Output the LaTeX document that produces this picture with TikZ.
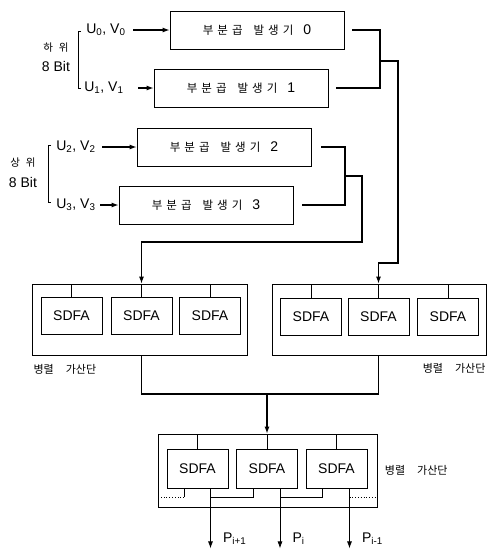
\documentclass[tikz,border=0pt]{standalone}
\usepackage{fontspec}
\setmainfont{Liberation Sans}
\newfontfamily\kr{Noto Sans CJK KR}
\usetikzlibrary{arrows.meta,positioning}
\newcommand\partgen[1]{{\kr\fontsize{11.5}{13}\selectfont 부\hspace{4pt}분\hspace{4pt}곱\hspace{11pt}발\hspace{4pt}생\hspace{4pt}기}\hspace{10pt}#1}
\newcommand\adderlbl{{\kr\fontsize{11}{13}\selectfont 병렬\hspace{12pt}가산단}}
\newcommand\halfword[1]{{\kr\fontsize{10.5}{12}\selectfont #1}}

\begin{document}
\begin{tikzpicture}[x=1pt, y=-1pt, >={Latex[length=7pt,width=5pt]},
  font=\fontsize{14}{16}\selectfont,
  genbox/.style={draw, line width=0.8pt, minimum width=174pt, minimum height=38pt},
  fabox/.style={draw, line width=0.8pt, minimum width=61pt, minimum height=37pt, inner sep=0pt},
  addbox/.style={draw, line width=0.8pt, inner sep=0pt},
  wire/.style={line width=1.1pt},
  thin wire/.style={line width=0.8pt}]
\useasboundingbox (0,0) rectangle (488,552);

% partial product generators
\node[genbox] (gen0) at (257,30) {\partgen{0}};
\node[genbox] (gen1) at (241,88) {\partgen{1}};
\node[genbox] (gen2) at (224,147) {\partgen{2}};
\node[genbox] (gen3) at (206,205) {\partgen{3}};

% inputs
\node[anchor=east] (u0) at (129,30) {U\textsubscript{0}, V\textsubscript{0}};
\node[anchor=east] (u1) at (127,88) {U\textsubscript{1}, V\textsubscript{1}};
\node[anchor=east] (u2) at (99,147) {U\textsubscript{2}, V\textsubscript{2}};
\node[anchor=east] (u3) at (99,205) {U\textsubscript{3}, V\textsubscript{3}};
\draw[wire, ->, shorten <=4pt] (u0) -- (gen0);
\draw[wire, ->, shorten <=11pt] (u1) -- (gen1);
\draw[wire, ->, shorten <=3pt] (u2) -- (gen2);
\draw[wire, ->, shorten <=1pt] (u3) -- (gen3);

% bit groups
\draw[thin wire] (81,31) -- (78,31) -- (78,88) -- (81,88);
\draw[thin wire] (51,145) -- (48,145) -- (48,202) -- (51,202);
\node (lo1) at (56,48) {\halfword{하\hspace{6pt}위}};
\node (lo2) at (56,66) {8 Bit};
\node (hi1) at (23,163) {\halfword{상\hspace{6pt}위}};
\node (hi2) at (23,182) {8 Bit};

% adders
\node[addbox, minimum width=215pt, minimum height=71pt] (addL) at (139.5,319.5) {};
\node[addbox, minimum width=214pt, minimum height=71pt] (addR) at (379,319.5) {};
\node[addbox, minimum width=219pt, minimum height=73pt] (addB) at (267.5,470.5) {};
\foreach \i/\x in {1/71.5, 2/141.5, 3/210}
  \node[fabox] (sL\i) at (\x,315.5) {SDFA};
\foreach \i/\x in {1/311, 2/378.5, 3/448}
  \node[fabox] (sR\i) at (\x,317) {SDFA};
\foreach \i/\x in {1/197.5, 2/267, 3/336.5}
  \node[fabox, minimum height=39pt] (sB\i) at (\x,468.5) {SDFA};
\foreach \s/\a in {sL/addL, sR/addR, sB/addB}
  \foreach \i in {1,2,3}
    \draw[thin wire] (\s\i.north) -- (\s\i.north |- \a.north);

\node[anchor=west] (lblL) at (30,369) {\adderlbl};
\node[anchor=east] (lblR) at (489,368) {\adderlbl};
\node[right=4pt of addB] (lblB) {\adderlbl};

% generator outputs
\coordinate (j01) at (380,61);
\coordinate (j23) at (345,176);
\draw[wire, shorten <=8pt, shorten >=8pt] (gen0.east) -| (j01) |- (gen1.east);
\draw[wire, shorten <=10pt, shorten >=9pt] (gen2.east) -| (j23) |- (gen3.east);
\coordinate (c0) at (398,263);
\coordinate (c1) at (362,242);
\draw[wire, ->] (j01) -| (c0) -| (sR2.north |- addR.north);
\draw[wire, ->] (j23) -| (c1) -| (sL2.north |- addL.north);

% merge
\coordinate (jB) at (267,394);
\draw[wire] (sL2.south |- addL.south) |- (jB);
\draw[wire] (sR2.south |- addR.south) |- (jB);
\draw[wire, ->] (jB) -- (sB2.north |- addB.north);

% final outputs
\coordinate (cy) at (0,497);
\foreach \i/\t in {1/{i+1}, 2/i, 3/{i-1}}
{
    \draw[thin wire, ->] ([xshift=13pt]sB\i.south) -- ++(0,60) coordinate (p\i);
    \node[anchor=south west] (P\i) at ([xshift=9pt]p\i) {P\textsubscript{\t}};
}
\draw[thin wire] ([xshift=-14pt]sB2.south) |- ([xshift=13pt]sB1.south |- cy);
\draw[thin wire] ([xshift=-14pt]sB3.south) |- ([xshift=13pt]sB2.south |- cy);
\draw[thin wire] ([xshift=-13.5pt]sB1.south) -- ([xshift=-13.5pt]sB1.south |- cy) coordinate (d1);
\draw[thin wire, dotted] (d1) -- (d1 -| addB.west);
\draw[thin wire, dotted] ([xshift=13pt]sB3.south |- cy) -- (addB.east |- cy);

\end{tikzpicture}
\end{document}
